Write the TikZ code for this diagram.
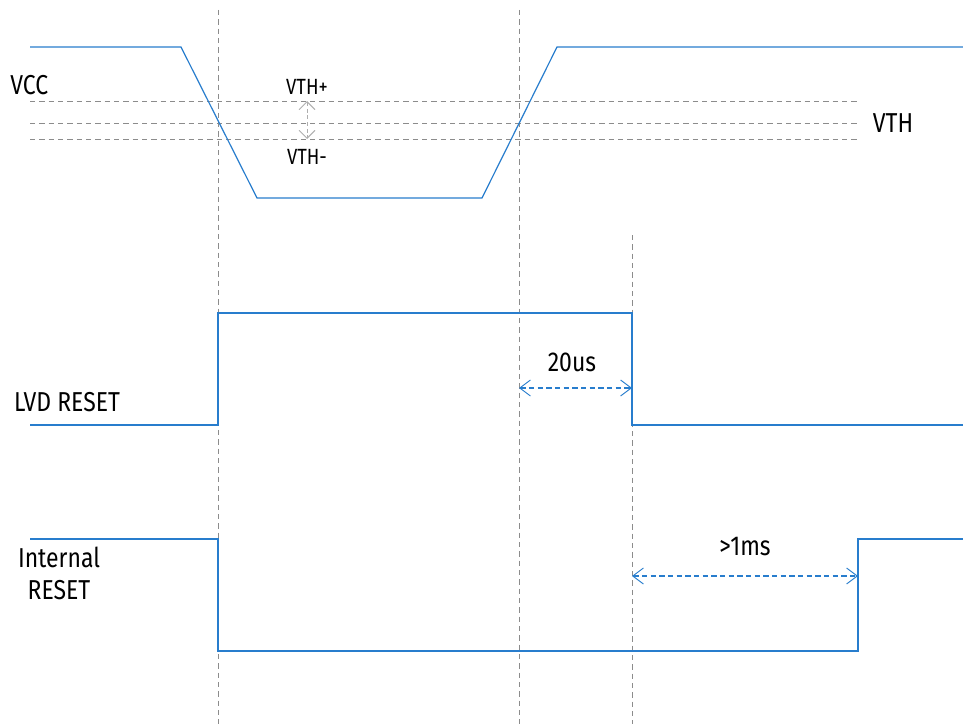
\documentclass[tikz,border=0pt]{standalone}
\usepackage{fontspec}
\setmainfont[FakeStretch=0.84]{Fira Sans}
\usetikzlibrary{arrows.meta}
\definecolor{sigblue}{RGB}{40,125,205}
\definecolor{guidegray}{RGB}{140,140,140}
\tikzset{
  wave/.style={draw=sigblue, line width=0.9pt},
  guide/.style={draw=guidegray, line width=0.7pt, dash pattern=on 4pt off 3pt},
  lbl/.style={font=\fontsize{20.5}{24}\selectfont, inner sep=0pt, align=center},
  small/.style={font=\fontsize{16.5}{19}\selectfont, inner sep=0pt},
  span/.style={sigblue, line width=0.8pt, dash pattern=on 4pt off 2.5pt,
    {Straight Barb[length=8pt,width=12pt,line width=0.7pt]}-{Straight Barb[length=8pt,width=12pt,line width=0.7pt]}},
}
\begin{document}
\begin{tikzpicture}[x=0.75pt,y=-0.75pt]
\useasboundingbox (0,0) rectangle (963,724);

% guides
\draw[guide] (218,10) -- (218,724);
\draw[guide] (519,10) -- (519,724);
\draw[guide] (632,235) -- (632,724);
\draw[guide] (30,101) -- (860,101);
\draw[guide] (30,123) -- (860,123);
\draw[guide] (30,139) -- (860,139);

% VCC
\coordinate (v0) at (30,47);
\coordinate (v1) at (181,47);
\coordinate (v2) at (257,198);
\coordinate (v3) at (482,198);
\coordinate (v4) at (557,47);
\coordinate (v5) at (963,47);
\draw[wave] (v0) -- (v1) -- (v2) -- (v3) -- (v4) -- (v5);
\node[lbl, anchor=west] (vcc) at (10,85) {VCC};
\node[small] (vthp) at (307,87) {VTH+};
\node[small] (vthm) at (307,157) {VTH-};
\node[lbl] (vth) at (893,123) {VTH};
\coordinate (hysa) at (307,101);
\coordinate (hysb) at (307,139);
\draw[guidegray!70, line width=0.7pt, dash pattern=on 3pt off 2pt,
  {Straight Barb[length=6pt,width=12pt]}-{Straight Barb[length=6pt,width=12pt]}] (hysa) -- (hysb);

% LVD RESET
\coordinate (l0) at (30,425);
\coordinate (l1) at (218,425);
\coordinate (l2) at (218,313);
\coordinate (l3) at (632,313);
\coordinate (l4) at (632,425);
\coordinate (l5) at (963,425);
\draw[wave] (l0) -- (l1) -- (l2) -- (l3) -- (l4) -- (l5);
\node[lbl] (lvd) at (67,402) {LVD RESET};
\coordinate (ta) at (519,388);
\coordinate (tb) at (632,388);
\draw[span] (ta) -- (tb);
\node[lbl] (t20) at (572,362) {20us};

% Internal RESET
\coordinate (r0) at (30,539);
\coordinate (r1) at (218,539);
\coordinate (r2) at (218,651);
\coordinate (r3) at (858,651);
\coordinate (r4) at (858,539);
\coordinate (r5) at (963,539);
\draw[wave] (r0) -- (r1) -- (r2) -- (r3) -- (r4) -- (r5);
\node[lbl, text depth=0pt] (irst) at (59,573) {Internal\\RESET};
\coordinate (ma) at (632,576);
\coordinate (mb) at (858,576);
\draw[span] (ma) -- (mb);
\node[lbl] (t1ms) at (745,547) {>1ms};
\end{tikzpicture}
\end{document}
